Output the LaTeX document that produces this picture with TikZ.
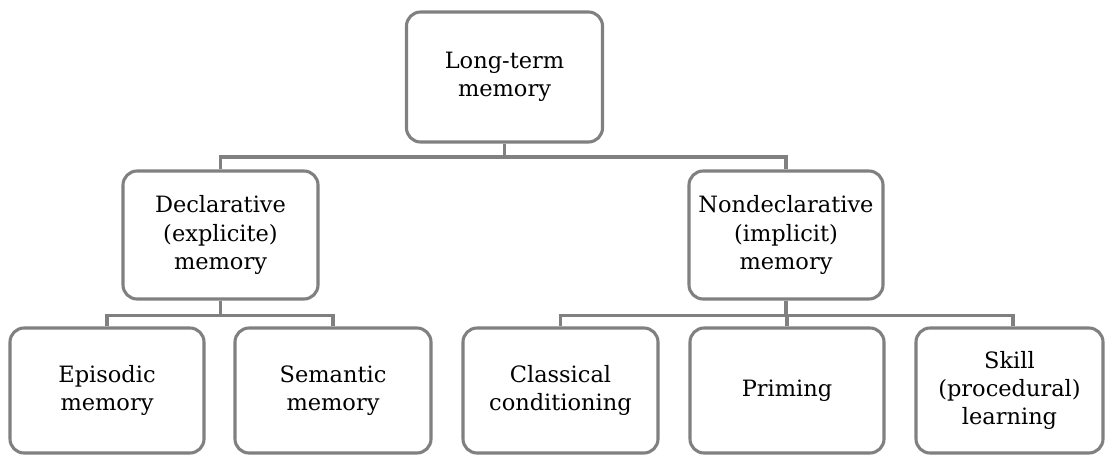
\documentclass[tikz,border=0pt]{standalone}
\usepackage{fontspec}
\setmainfont{DejaVu Serif}
\usepackage{tikz}
\usetikzlibrary{calc}

\begin{document}
\begin{tikzpicture}[x=0.025cm, y=-0.025cm,
		membox/.style={draw=black!50, line width=2.2pt, rounded corners=10pt, fill=white, align=center, inner sep=0pt, font=\fontsize{16}{20}\selectfont},
		link/.style={draw=black!50, line width=2.4pt}]
		%%%%% START %%%%%
		
		\useasboundingbox (0, 0) rectangle (1105, 455);
		
		\node[membox, minimum width=196*0.025cm, minimum height=130*0.025cm] (ltm) at (504.5, 77) {Long-term\\memory};
		
		\node[membox, minimum width=195*0.025cm, minimum height=128*0.025cm] (decl) at (220.5, 235) {Declarative\\(explicite)\\memory};
		\node[membox, minimum width=194*0.025cm, minimum height=128*0.025cm] (nondecl) at (786, 235) {Nondeclarative\\(implicit)\\memory};
		
		\node[membox, minimum width=194*0.025cm, minimum height=125*0.025cm] (episodic) at (107, 390.5) {Episodic\\memory};
		\node[membox, minimum width=196*0.025cm, minimum height=125*0.025cm] (semantic) at (333, 390.5) {Semantic\\memory};
		
		\node[membox, minimum width=195*0.025cm, minimum height=125*0.025cm] (classical) at (560.5, 390.5) {Classical\\conditioning};
		\node[membox, minimum width=194*0.025cm, minimum height=125*0.025cm] (priming) at (787, 390.5) {Priming};
		\node[membox, minimum width=187*0.025cm, minimum height=125*0.025cm] (skill) at (1009.5, 390.5) {Skill\\(procedural)\\learning};
		
		\draw[link] (ltm.south) -- ++(0, 13.5) -| (decl.north);
		\draw[link] (ltm.south) -- ++(0, 13.5) -| (nondecl.north);
		
		\draw[link] (decl.south) -- ++(0, 15) -| (episodic.north);
		\draw[link] (decl.south) -- ++(0, 15) -| (semantic.north);
		
		\draw[link] (nondecl.south) -- ++(0, 15) -| (classical.north);
		\draw[link] (nondecl.south) -- ++(0, 15) -| (priming.north);
		\draw[link] (nondecl.south) -- ++(0, 15) -| ($(skill.north)+(3.5, 0)$);
		
		%%%%% END %%%%%
	\end{tikzpicture}
\end{document}
